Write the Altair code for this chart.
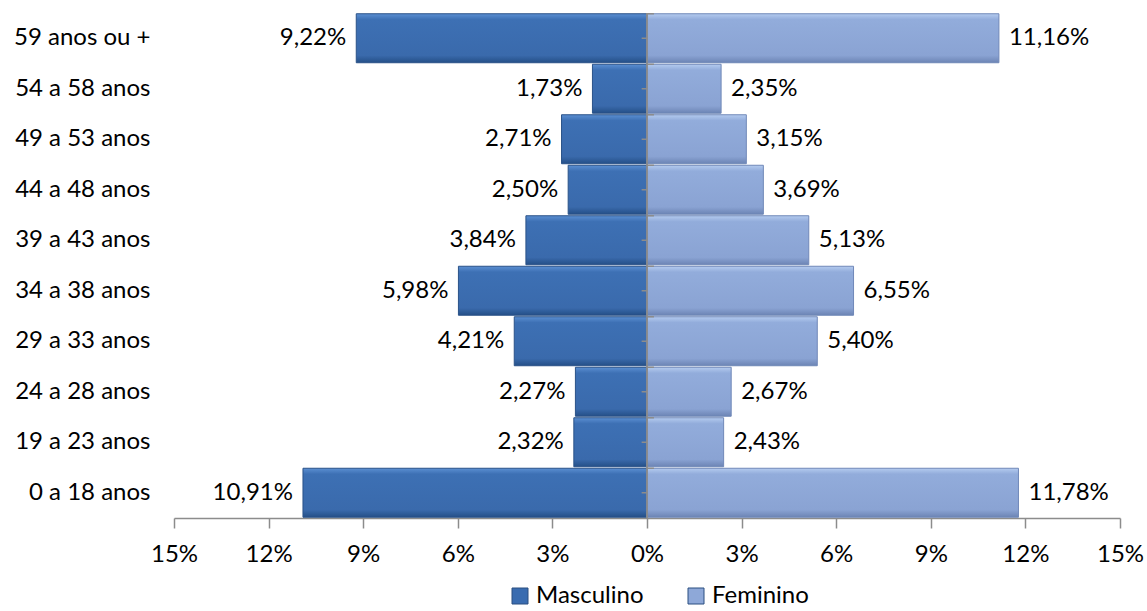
import altair as alt
import pandas as pd

categories = ["59 anos ou +", "54 a 58 anos", "49 a 53 anos", "44 a 48 anos", "39 a 43 anos",
              "34 a 38 anos", "29 a 33 anos", "24 a 28 anos", "19 a 23 anos", "0 a 18 anos"]
masculino = [9.22, 1.73, 2.71, 2.50, 3.84, 5.98, 4.21, 2.27, 2.32, 10.91]
feminino = [11.16, 2.35, 3.15, 3.69, 5.13, 6.55, 5.40, 2.67, 2.43, 11.78]
series = ["Masculino", "Feminino"]
x_ticks = [-15, -12, -9, -6, -3, 0, 3, 6, 9, 12, 15]

FONT = "Lato"
FS = 24

def fmt(v):
    return f"{v:.2f}".replace(".", ",") + "%"

rows = []
for c, m, f in zip(categories, masculino, feminino):
    rows.append({"faixa": c, "sexo": "Masculino", "valor": m, "pos": -m, "rotulo": fmt(m)})
    rows.append({"faixa": c, "sexo": "Feminino", "valor": f, "pos": f, "rotulo": fmt(f)})
df = pd.DataFrame(rows)
cat_df = pd.DataFrame({"faixa": categories})

xscale = alt.Scale(domain=[-15, 15], nice=False, zero=False)
yscale = alt.Scale(paddingInner=0.03, paddingOuter=0.015)

x_enc = alt.X("pos:Q", scale=xscale,
              axis=alt.Axis(values=x_ticks, labelExpr="abs(datum.value) + '%'", title=None,
                            grid=False, domainColor="#8c8c8c", domainWidth=1.5,
                            tickColor="#8c8c8c", tickWidth=1.5, labelFlush=False,
                            labelOverlap=False,
                            tickSize=10, labelPadding=14, labelFontSize=FS, labelColor="#000",
                            labelFont=FONT))
y_enc = alt.Y("faixa:N", sort=categories, scale=yscale,
              axis=alt.Axis(title=None, domain=False, ticks=False, labelPadding=24,
                            labelFontSize=FS, labelColor="#000", labelFont=FONT))

grad_m = alt.Gradient(gradient="linear", x1=0, x2=0, y1=0, y2=1, stops=[
    alt.GradientStop(color="#5b8fd2", offset=0),
    alt.GradientStop(color="#3d70b4", offset=0.12),
    alt.GradientStop(color="#3a6aac", offset=0.85),
    alt.GradientStop(color="#244f87", offset=1)])
grad_f = alt.Gradient(gradient="linear", x1=0, x2=0, y1=0, y2=1, stops=[
    alt.GradientStop(color="#b4cbef", offset=0),
    alt.GradientStop(color="#92acdb", offset=0.12),
    alt.GradientStop(color="#8aa3d3", offset=0.85),
    alt.GradientStop(color="#6c84b4", offset=1)])

base = alt.Chart(df)

bars_m = base.transform_filter(alt.datum.sexo == "Masculino").mark_bar(
    fill=grad_m, stroke="#2a5288", strokeWidth=1).encode(x=x_enc, y=y_enc)
bars_f = base.transform_filter(alt.datum.sexo == "Feminino").mark_bar(
    fill=grad_f, stroke="#7088b8", strokeWidth=1).encode(x=x_enc, y=y_enc)

legend_layer = base.mark_bar(opacity=0).encode(
    x=x_enc, y=y_enc,
    color=alt.Color("sexo:N", sort=series,
                    scale=alt.Scale(domain=series, range=["#3a6cb0", "#8ea8d8"]),
                    legend=alt.Legend(title=None, orient="none", direction="horizontal",
                                      legendX=334, legendY=571, symbolType="square",
                                      symbolSize=256, symbolOpacity=1, labelFontSize=FS,
                                      labelFont=FONT, labelColor="#000", columnPadding=40,
                                      symbolStrokeColor="#2a4f80", symbolStrokeWidth=1,
                                      labelOffset=4)))

zero_rule = alt.Chart(pd.DataFrame({"z": [0]})).mark_rule(color="#8c8c8c", strokeWidth=1.8).encode(
    x=alt.X("z:Q", scale=xscale))

tick_center = alt.Chart(cat_df).mark_rule(color="#8c8c8c", strokeWidth=1.5).encode(
    y=alt.Y("faixa:N", sort=categories, scale=yscale),
    x=alt.datum(0), x2=alt.datum(-0.17))
tick_edge = alt.Chart(cat_df).mark_rule(color="#8c8c8c", strokeWidth=1.5).encode(
    y=alt.Y("faixa:N", sort=categories, scale=yscale, bandPosition=0),
    x=alt.datum(0), x2=alt.datum(0.22))

text_m = base.transform_filter(alt.datum.sexo == "Masculino").mark_text(
    align="right", baseline="middle", dx=-10, fontSize=FS, font=FONT, color="#000").encode(
    x=x_enc, y=y_enc, text="rotulo:N")
text_f = base.transform_filter(alt.datum.sexo == "Feminino").mark_text(
    align="left", baseline="middle", dx=10, fontSize=FS, font=FONT, color="#000").encode(
    x=x_enc, y=y_enc, text="rotulo:N")

chart = alt.layer(legend_layer, bars_m, bars_f, zero_rule, tick_center, tick_edge,
                  text_m, text_f).properties(
    width=946, height=505,
    background="white",
    autosize=alt.AutoSizeParams(type="none"),
    padding={"left": 174, "top": 13, "right": 27, "bottom": 93},
).configure_view(stroke=None)

chart.save("out.html", embed_options={"renderer": "svg", "actions": False})
